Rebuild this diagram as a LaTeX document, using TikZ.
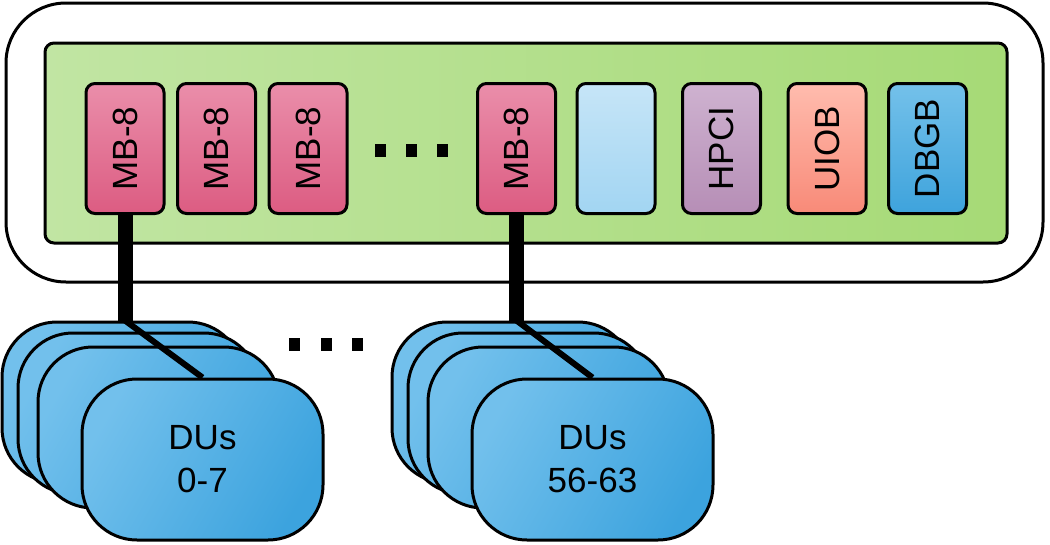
\documentclass[tikz,border=0pt]{standalone}
\usepackage{fontspec}
\setmainfont{Liberation Sans}
\usepackage{graphicx}
\definecolor{grL}{RGB}{193,229,163}
\definecolor{grR}{RGB}{166,218,118}
\definecolor{pkA}{RGB}{234,142,170}
\definecolor{pkB}{RGB}{220,92,130}
\definecolor{lbA}{RGB}{198,229,247}
\definecolor{lbB}{RGB}{162,213,242}
\definecolor{puA}{RGB}{206,178,208}
\definecolor{puB}{RGB}{182,142,182}
\definecolor{orA}{RGB}{255,188,174}
\definecolor{orB}{RGB}{248,138,120}
\definecolor{dbA}{RGB}{116,193,234}
\definecolor{dbB}{RGB}{62,163,220}
\definecolor{duA}{RGB}{114,192,236}
\definecolor{duB}{RGB}{60,163,222}
\tikzset{
  card/.style={draw=black, line width=3pt, rounded corners=9pt, minimum width=78pt,
    minimum height=130pt, inner sep=0pt, shading angle=40,
    font=\fontsize{35}{42}\selectfont},
  mbbox/.style={card, top color=pkA, bottom color=pkB},
  lbbox/.style={card, top color=lbA, bottom color=lbB},
  hpbox/.style={card, top color=puA, bottom color=puB},
  uibox/.style={card, top color=orA, bottom color=orB},
  dbbox/.style={card, top color=dbA, bottom color=dbB},
  dubox/.style={draw=black, line width=3pt, rounded corners=55pt, minimum width=241pt,
    minimum height=161pt, inner sep=0pt, top color=duA, bottom color=duB, shading angle=60,
    align=center, font=\fontsize{35}{43}\selectfont},
  dotsq/.style={fill=black, minimum width=11pt, minimum height=13pt, inner sep=0pt},
  bus/.style={line width=15pt},
  link/.style={line width=6pt}
}
\begin{document}
\begin{tikzpicture}[x=1pt,y=-1pt]
\useasboundingbox (0,0) rectangle (1050,544);
% outer frame
\draw[line width=3pt, fill=white, rounded corners=60pt] (6,3) rectangle (1043,282);
% green board
\draw[line width=3pt, left color=grL, right color=grR, rounded corners=9pt] (45,43) rectangle (1007,243);
% cards
\node[mbbox] (mb1) at (125,148.5) {\rotatebox{90}{MB-8}};
\node[mbbox] (mb2) at (216.5,148.5) {\rotatebox{90}{MB-8}};
\node[mbbox] (mb3) at (308,148.5) {\rotatebox{90}{MB-8}};
\node[mbbox] (mb4) at (516.5,148.5) {\rotatebox{90}{MB-8}};
\node[lbbox] (lb) at (616,148.5) {};
\node[hpbox] (hp) at (721.5,148.5) {\rotatebox{90}{HPCI}};
\node[uibox] (ui) at (827,148.5) {\rotatebox{90}{UIOB}};
\node[dbbox] (db) at (927.5,148.5) {\rotatebox{90}{DBGB}};
% dots top
\node[dotsq] (t1) at (380.5,150.5) {};
\node[dotsq] (t2) at (411.5,150.5) {};
\node[dotsq] (t3) at (442.5,150.5) {};
% dots bottom
\node[dotsq] (b1) at (294.5,344) {};
\node[dotsq] (b2) at (326,344) {};
\node[dotsq] (b3) at (357,344) {};
% DU stack 1
\node[dubox] (duAa) at (122.5,402.5) {};
\node[dubox] (duAb) at (138.5,413.5) {};
\node[dubox] (duAc) at (158.5,427.5) {};
\coordinate (jA) at (mb1.south |- duAa.north);
\draw[bus] (mb1.south) -- (jA);
% DU stack 2
\node[dubox] (duBa) at (512.5,402.5) {};
\node[dubox] (duBb) at (528.5,413.5) {};
\node[dubox] (duBc) at (548.5,427.5) {};
\coordinate (jB) at (mb4.south |- duBa.north);
\draw[bus] (mb4.south) -- (jB);
% front boxes
\node[dubox] (duAd) at (202.5,459.5) {DUs\\0-7};
\node[dubox] (duBd) at (592.5,459.5) {DUs\\56-63};
\draw[link] (jA) -- (duAd.north);
\draw[link] (jB) -- (duBd.north);
\end{tikzpicture}
\end{document}
